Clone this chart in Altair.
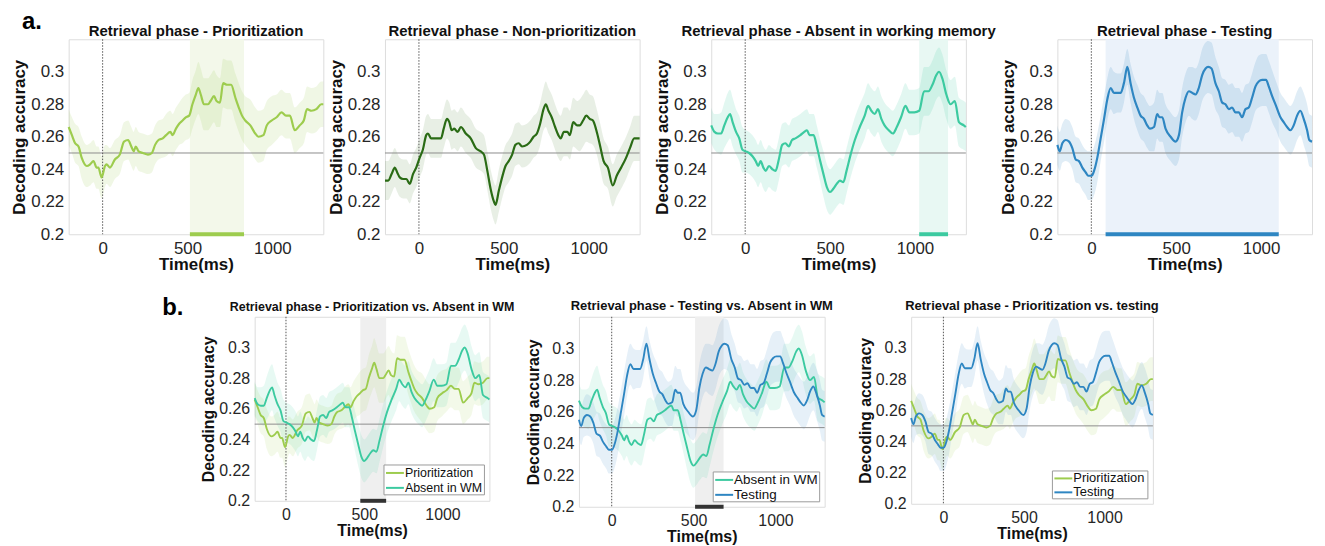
import altair as alt
import pandas as pd

FONT = "Liberation Sans"

# ---------------- data ----------------
prio_t = [-200, -181, -162, -142, -123, -93, -74, -54, -35, -25,
          -6, 14, 23, 43, 72, 101, 126, 150, 169, 183,
          195, 212, 237, 267, 290, 309, 329, 354, 374, 399,
          412, 432, 451, 471, 490, 510, 529, 549, 564, 578,
          597, 621, 636, 656, 671, 691, 710, 733, 757, 782,
          802, 821, 840, 870, 899, 918, 947, 967, 996, 1025,
          1054, 1080, 1103, 1132, 1161, 1185, 1204, 1230, 1259, 1288,
          1300]
prio_v = [.266, .261, .256, .254, .247, .242, .243, .245, .241, .241,
          .235, .242, .243, .241, .246, .249, .257, .258, .254, .251,
          .254, .251, .250, .249, .250, .255, .258, .259, .261, .263,
          .261, .265, .268, .270, .272, .273, .280, .286, .290, .286,
          .280, .280, .282, .285, .282, .281, .293, .292, .292, .284,
          .278, .273, .270, .267, .262, .260, .261, .267, .270, .272,
          .275, .273, .273, .264, .267, .270, .277, .276, .277, .280,
          .280]
prio_ci = [.011, .011, .012, .012, .013, .013, .013, .013, .013, .013,
           .013, .013, .012, .012, .012, .012, .012, .012, .012, .012,
           .012, .012, .012, .012, .012, .012, .012, .012, .013, .013,
           .013, .013, .013, .014, .014, .014, .015, .015, .016, .016,
           .016, .016, .016, .016, .016, .015, .015, .015, .015, .015,
           .015, .015, .015, .016, .016, .016, .016, .015, .015, .014,
           .014, .014, .014, .014, .014, .014, .014, .014, .014, .014,
           .014]

nonp_t = [-200, -181, -161, -142, -128, -113, -93, -74, -54, -35,
          -16, 4, 23, 43, 53, 72, 101, 130, 146, 165,
          179, 193, 208, 228, 247, 276, 305, 335, 364, 383,
          403, 422, 442, 451, 471, 490, 510, 529, 549, 568,
          588, 607, 636, 656, 675, 695, 714, 734, 747, 763,
          782, 802, 821, 835, 854, 874, 889, 909, 932, 947,
          967, 986, 1006, 1025, 1045, 1068, 1088, 1113, 1142, 1165,
          1191, 1220, 1243, 1268, 1294, 1300]
nonp_v = [.233, .233, .237, .241, .238, .235, .234, .234, .231, .237,
          .241, .247, .252, .261, .262, .259, .259, .259, .265, .271,
          .269, .264, .265, .263, .266, .262, .259, .253, .251, .249,
          .239, .228, .220, .218, .227, .235, .242, .245, .249, .255,
          .256, .254, .255, .257, .260, .262, .268, .277, .280, .276,
          .272, .266, .261, .259, .263, .263, .261, .269, .267, .267,
          .270, .273, .271, .270, .264, .254, .245, .241, .230, .236,
          .241, .247, .253, .259, .259, .259]
nonp_ci = [.012, .012, .012, .012, .012, .012, .012, .012, .012, .012,
           .012, .012, .012, .012, .012, .012, .012, .012, .012, .012,
           .012, .012, .012, .012, .012, .012, .012, .012, .012, .012,
           .012, .012, .012, .012, .013, .013, .013, .013, .013, .013,
           .013, .013, .013, .013, .013, .013, .013, .013, .014, .014,
           .014, .014, .014, .014, .015, .015, .015, .015, .015, .016,
           .016, .016, .015, .015, .014, .014, .014, .013, .013, .013,
           .013, .013, .013, .014, .014, .014]

abs_t = [-200, -181, -161, -142, -123, -103, -89, -74, -54, -35,
         -16, 4, 23, 43, 62, 76, 91, 107, 121, 140,
         160, 179, 198, 218, 237, 257, 276, 296, 325, 348,
         364, 379, 403, 422, 442, 461, 481, 500, 519, 539,
         558, 578, 597, 621, 646, 675, 704, 724, 743, 763,
         782, 802, 821, 846, 870, 893, 918, 944, 967, 996,
         1025, 1054, 1080, 1103, 1126, 1142, 1161, 1185, 1210, 1235,
         1259, 1288, 1300]
abs_v = [.267, .263, .262, .262, .267, .272, .274, .269, .263, .259,
         .252, .251, .250, .248, .245, .242, .245, .241, .239, .242,
         .240, .239, .246, .255, .256, .254, .258, .259, .261, .263,
         .264, .261, .261, .254, .245, .237, .229, .226, .228, .231,
         .233, .232, .239, .249, .258, .266, .273, .279, .276, .274,
         .277, .271, .267, .264, .262, .266, .272, .279, .275, .275,
         .276, .288, .288, .292, .298, .300, .296, .286, .280, .282,
         .269, .267, .266]
abs_ci = [.011, .011, .012, .013, .014, .015, .015, .015, .014, .014,
          .014, .013, .013, .013, .013, .013, .013, .013, .013, .013,
          .013, .013, .013, .013, .013, .013, .013, .013, .013, .013,
          .013, .013, .013, .013, .013, .014, .014, .014, .014, .014,
          .014, .014, .014, .014, .014, .014, .014, .014, .014, .014,
          .014, .014, .014, .014, .014, .014, .014, .014, .014, .014,
          .014, .015, .015, .015, .015, .015, .015, .015, .015, .015,
          .015, .015, .015]

test_t = [-200, -186, -171, -151, -131, -112, -92, -73, -53, -33,
          -18, 2, 16, 35, 55, 75, 94, 114, 133, 153,
          173, 192, 212, 231, 251, 271, 290, 310, 329, 345,
          369, 388, 402, 418, 437, 467, 496, 516, 535, 555,
          575, 594, 614, 633, 653, 673, 688, 708, 731, 751,
          771, 790, 810, 829, 849, 869, 888, 908, 927, 947,
          967, 986, 1006, 1029, 1045, 1065, 1088, 1114, 1133, 1153,
          1173, 1192, 1212, 1231, 1251, 1271, 1284, 1300]
test_v = [.255, .251, .256, .258, .257, .253, .246, .245, .241, .238,
          .236, .236, .239, .247, .259, .271, .283, .290, .287, .287,
          .287, .293, .303, .293, .284, .278, .273, .271, .267, .265,
          .266, .274, .272, .272, .265, .260, .257, .261, .275, .284,
          .288, .287, .286, .290, .298, .302, .303, .302, .293, .288,
          .281, .280, .277, .278, .275, .275, .272, .277, .278, .284,
          .291, .294, .295, .295, .291, .285, .279, .272, .269, .266,
          .264, .267, .273, .276, .271, .264, .258, .257]
test_ci = [.012, .012, .012, .013, .013, .013, .014, .014, .014, .014,
           .015, .015, .015, .015, .014, .014, .013, .013, .013, .012,
           .012, .012, .011, .012, .013, .014, .014, .014, .014, .014,
           .015, .015, .015, .015, .015, .015, .015, .015, .015, .015,
           .015, .016, .016, .016, .016, .016, .016, .016, .016, .015,
           .015, .015, .015, .015, .015, .015, .015, .015, .015, .015,
           .015, .016, .016, .016, .016, .016, .015, .015, .015, .015,
           .015, .015, .015, .015, .016, .016, .016, .016]

# significant time windows (ms)
sig_prio = [514, 833]
sig_abs = [1025, 1195]
sig_test = [84, 1104]
sig_prio_vs_abs = [475, 640]
sig_test_vs_abs = [509, 683]

x_ticks = [0, 500, 1000]
y_ticks = [0.2, 0.22, 0.24, 0.26, 0.28, 0.3]
chance = [0.25]
onset = [0]

SERIES = {
    "Prioritization": (prio_t, prio_v, prio_ci),
    "Non-prioritization": (nonp_t, nonp_v, nonp_ci),
    "Absent in WM": (abs_t, abs_v, abs_ci),
    "Testing": (test_t, test_v, test_ci),
}
COLORS = {
    "Prioritization": "#9dcc4e",
    "Non-prioritization": "#2a6b15",
    "Absent in WM": "#3ccaa0",
    "Testing": "#2e86c2",
}


def series_df(names):
    frames = []
    for k, name in enumerate(names):
        t, v, c = SERIES[name]
        frames.append(pd.DataFrame({
            "time": t, "acc": v,
            "lo": [a - e for a, e in zip(v, c)],
            "hi": [a + e for a, e in zip(v, c)],
            "series": name, "band": name, "k": k}))
    return pd.concat(frames, ignore_index=True)


XS = alt.Scale(domain=[-200, 1300], nice=False, zero=False)
YS = alt.Scale(domain=[0.2, 0.32], nice=False, zero=False)
ONE = pd.DataFrame({"a": [0]})


def legend_layers(names, w, h, box_w, box_h, inset_r, inset_b, fs):
    x1 = w - inset_r
    x0 = x1 - box_w
    y1 = h - inset_b
    y0 = y1 - box_h
    out = [alt.Chart(ONE).mark_rect(fill="white", stroke="#9a9a9a",
                                    strokeWidth=1).encode(
        x=alt.value(x0), x2=alt.value(x1), y=alt.value(y0), y2=alt.value(y1))]
    row_h = box_h / len(names)
    for i, n in enumerate(names):
        yc = y0 + row_h * (i + 0.5) + 0.5
        out.append(alt.Chart(ONE).mark_rule(color=COLORS[n], strokeWidth=2).encode(
            x=alt.value(x0 + 2), x2=alt.value(x0 + 20), y=alt.value(yc)))
        out.append(alt.Chart(ONE).mark_text(
            font=FONT, fontSize=fs, align="left", baseline="middle",
            color="#111111").encode(
            x=alt.value(x0 + 21), y=alt.value(yc), text=alt.value(n)))
    return out


def make_panel(names, title, w, h, sig=None, sig_fill=None, bar_color=None,
               legend=None, big=True, band_op=0.15, lw=2.2, pts=None,
               toff=0):
    lab = 17 if big else 16
    tfs = 17 if big else 16
    if pts is None:
        pts = 15 if big else 13
    xaxis = alt.Axis(values=x_ticks, format="d", title="Time(ms)", grid=False,
                     ticks=False, domain=False, labelFont=FONT, titleFont=FONT,
                     labelFontSize=lab, titleFontSize=tfs, titleFontWeight="bold",
                     labelColor="#262626", titleColor="#111111",
                     labelPadding=6, titlePadding=0)
    yaxis = alt.Axis(values=y_ticks, format=".2~f", title="Decoding accuracy",
                     grid=False, ticks=False, domain=False, labelFont=FONT,
                     titleFont=FONT, labelFontSize=lab, titleFontSize=tfs,
                     titleFontWeight="bold", labelColor="#262626",
                     titleColor="#111111", labelPadding=5, titlePadding=2)
    X = lambda f: alt.X(f, type="quantitative", scale=XS, axis=xaxis)
    Y = lambda f: alt.Y(f, type="quantitative", scale=YS, axis=yaxis)
    cdom = list(names)
    crange = [COLORS[n] for n in names]
    data = series_df(names)
    layers = []
    if sig is not None:
        sdf = pd.DataFrame({"start": [sig[0]], "end": [sig[1]],
                            "ylo": [YS.domain[0]], "yhi": [YS.domain[1]]})
        layers.append(alt.Chart(sdf).mark_rect(color=sig_fill).encode(
            x=X("start"), x2="end", y=Y("ylo"), y2="yhi"))
    layers.append(alt.Chart(data).mark_area(opacity=band_op, interpolate="monotone").encode(
        x=X("time"), y=Y("lo"), y2="hi",
        fill=alt.Fill("band:N", scale=alt.Scale(domain=cdom, range=crange),
                      legend=None),
        detail="band:N"))
    layers.append(alt.Chart(pd.DataFrame({"y": chance})).mark_rule(
        color="#8c8c8c", strokeWidth=1).encode(y=Y("y")))
    layers.append(alt.Chart(pd.DataFrame({"x": onset})).mark_rule(
        color="#555555", strokeWidth=1, strokeDash=[1.5, 1.5]).encode(x=X("x")))
    layers.append(alt.Chart(data).mark_line(strokeWidth=lw, interpolate="monotone").encode(
        x=X("time"), y=Y("acc"),
        color=alt.Color("series:N", scale=alt.Scale(domain=cdom, range=crange),
                        legend=None),
        order="k:Q"))
    if sig is not None:
        bdf = pd.DataFrame({"start": [sig[0]], "end": [sig[1]],
                            "ylo": [YS.domain[0]]})
        layers.append(alt.Chart(bdf).mark_rule(color=bar_color, strokeWidth=4).encode(
            x=X("start"), x2="end", y=Y("ylo")))
    if legend is not None:
        layers += legend_layers(names, w, h, *legend)
    return alt.layer(*layers).properties(
        width=w, height=h,
        title=alt.TitleParams(title, font=FONT, fontSize=pts, fontWeight="bold",
                              color="#111111", offset=toff))


def spacer(w, h=10, label="", lx=0, ly=0):
    txt = alt.Chart(pd.DataFrame({"lab": [label]})).mark_text(
        font=FONT, fontSize=24, fontWeight="bold", align="left",
        baseline="alphabetic", color="black").encode(
        text="lab:N", x=alt.value(lx), y=alt.value(ly))
    return alt.layer(txt).properties(
        width=w, height=h, view=alt.ViewBackground(stroke="transparent"))


RES = dict(x="independent", y="independent", color="independent",
           fill="independent")

a1 = make_panel(["Prioritization"], "Retrieval phase - Prioritization", 256, 196,
                sig=sig_prio, sig_fill="#f3f8ea", bar_color=COLORS["Prioritization"])
a2 = make_panel(["Non-prioritization"], "Retrieval phase - Non-prioritization",
                256, 196, band_op=0.11)
a3 = make_panel(["Absent in WM"], "Retrieval phase - Absent in working memory",
                256, 196, sig=sig_abs, sig_fill="#e8f8f3",
                bar_color=COLORS["Absent in WM"])
a4 = make_panel(["Testing"], "Retrieval phase - Testing", 256, 196,
                sig=sig_test, sig_fill="#ebf2fa", bar_color=COLORS["Testing"])

b1 = make_panel(["Prioritization", "Absent in WM"],
                "Retrieval phase - Prioritization vs. Absent in WM", 236, 185,
                sig=sig_prio_vs_abs, sig_fill="#efefef", bar_color="#333333",
                legend=(101, 30, 5, 6, 12.5), big=False, band_op=0.12, lw=1.9,
                pts=12.5, toff=3)
b2 = make_panel(["Absent in WM", "Testing"],
                "Retrieval phase - Testing vs. Absent in WM", 247, 191,
                sig=sig_test_vs_abs, sig_fill="#efefef", bar_color="#333333",
                legend=(107, 30, 5, 5, 13.5), big=False, band_op=0.12, lw=1.9,
                toff=3)
b3 = make_panel(["Prioritization", "Testing"],
                "Retrieval phase - Prioritization vs. testing", 243, 188,
                legend=(96, 28, 5, 5, 13), big=False, band_op=0.12, lw=1.9,
                toff=3)

rowA = alt.hconcat(spacer(1, 10, "a.", -46, -10), a1, spacer(62), a2,
                   spacer(72), a3, spacer(92), a4,
                   spacing=0, bounds="flush").resolve_scale(**RES)
rowB = alt.hconcat(spacer(188, 10, "b.", 95, -2), b1, spacer(90), b2,
                   spacer(87), b3, spacing=0, bounds="flush").resolve_scale(**RES)

chart = alt.vconcat(rowA, rowB, spacing=22).resolve_scale(**RES).properties(
    padding={"left": 2, "top": 0, "right": 0, "bottom": 0}
).configure_view(stroke="#b4b4b4", strokeWidth=1).configure(font=FONT)

chart.save("out.html", embed_options={"renderer": "svg", "actions": False})
